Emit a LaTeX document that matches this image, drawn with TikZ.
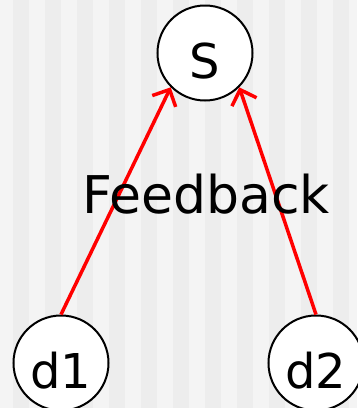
\documentclass[tikz,border=0pt]{standalone}
\usepackage{fontspec}
\setmainfont{DejaVu Sans}
\usetikzlibrary{arrows.meta}
\definecolor{stripeA}{HTML}{F4F4F4}
\definecolor{stripeB}{HTML}{EDEDED}
\begin{document}
\begin{tikzpicture}[x=1pt,y=-1pt,
  vertex/.style={circle,draw=black,line width=2pt,fill=white,minimum size=95pt,inner sep=0pt,
    font=\fontsize{48}{48}\selectfont,text height=50pt,text depth=0pt},
  feed/.style={-{Straight Barb[length=13pt,width=26pt,line width=3.5pt]},draw=red,line width=3.5pt},
  lbl/.style={font=\fontsize{52}{52}\selectfont,inner sep=0pt}]
\useasboundingbox (0,0) rectangle (357,408);
\fill[stripeA] (0,0) rectangle (357,408);
\foreach \k in {0,...,10} {
  \fill[stripeB] ({13+32*\k},0) rectangle ({29+32*\k},408);
}
\node[vertex] (S) at (205,53) {S};
\node[vertex] (d1) at (61,363) {d1};
\node[vertex] (d2) at (316,363) {d2};
\draw[feed] (d1.north) -- (S.south west);
\draw[feed] (d2.north) -- (S.south east);
\node[lbl,anchor=base] (fb) at (206,213) {Feedback};
\end{tikzpicture}
\end{document}
